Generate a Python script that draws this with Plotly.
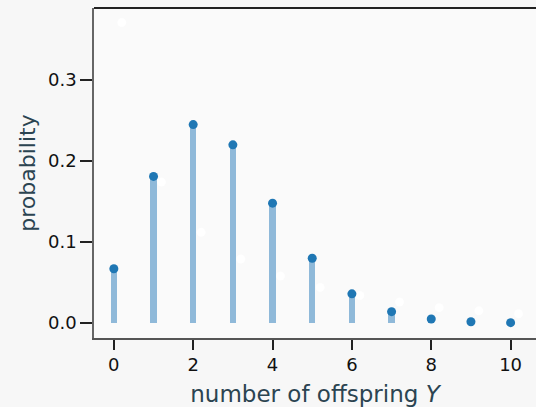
import plotly.graph_objects as go

offspring = [0, 1, 2, 3, 4, 5, 6, 7, 8, 9, 10]
probability = [0.067, 0.181, 0.245, 0.220, 0.148, 0.080, 0.036, 0.014, 0.005, 0.0015, 0.0004]

faint_x = [0.2, 1.2, 2.2, 3.2, 4.2, 5.2, 6.2, 7.2, 8.2, 9.2, 10.2]
faint_y = [0.371, 0.174, 0.112, 0.079, 0.058, 0.044, 0.034, 0.026, 0.019, 0.015, 0.0115]

fig = go.Figure()
fig.add_trace(go.Bar(x=offspring, y=probability, width=0.16,
                     marker=dict(color="#8fb9d9", line=dict(width=0)),
                     hoverinfo="skip", showlegend=False))
fig.add_trace(go.Scatter(x=faint_x, y=faint_y, mode="markers",
                         marker=dict(color="white", size=9, opacity=0.85),
                         showlegend=False))
fig.add_trace(go.Scatter(x=offspring, y=probability, mode="markers",
                         marker=dict(color="#1f77b4", size=9),
                         showlegend=False))

fig.add_shape(type="line", xref="paper", yref="paper", x0=0, x1=1, y0=1, y1=1,
              line=dict(color="#222222", width=2))

fig.update_layout(
    width=536, height=407,
    margin=dict(l=94, r=0, t=8, b=69),
    paper_bgcolor="#f7f7f7", plot_bgcolor="#fafafa",
    font=dict(family="DejaVu Sans", size=18, color="#111111"),
    bargap=0,
)
fig.update_xaxes(range=[-0.5, 10.64], tickvals=[0, 2, 4, 6, 8, 10],
                 showgrid=False, zeroline=False, showline=True, linecolor="#555555", linewidth=1.5,
                 ticks="outside", ticklen=10, tickwidth=1.5, tickcolor="#222222",
                 tickfont=dict(size=18, color="#111111"),
                 title=dict(text="number of offspring <i>Y</i>", font=dict(size=23, color="#2b4451"),
                            standoff=15))
fig.update_yaxes(range=[-0.0185, 0.389], tickvals=[0, 0.1, 0.2, 0.3], tickformat=".1f",
                 showgrid=False, zeroline=False, showline=True, linecolor="#666666", linewidth=1.5,
                 ticks="outside", ticklen=12, tickwidth=1.5, tickcolor="#222222",
                 tickfont=dict(size=18, color="#111111"),
                 title=dict(text="probability", font=dict(size=22, color="#2b4451"), standoff=6))

fig.write_html("out.html")
